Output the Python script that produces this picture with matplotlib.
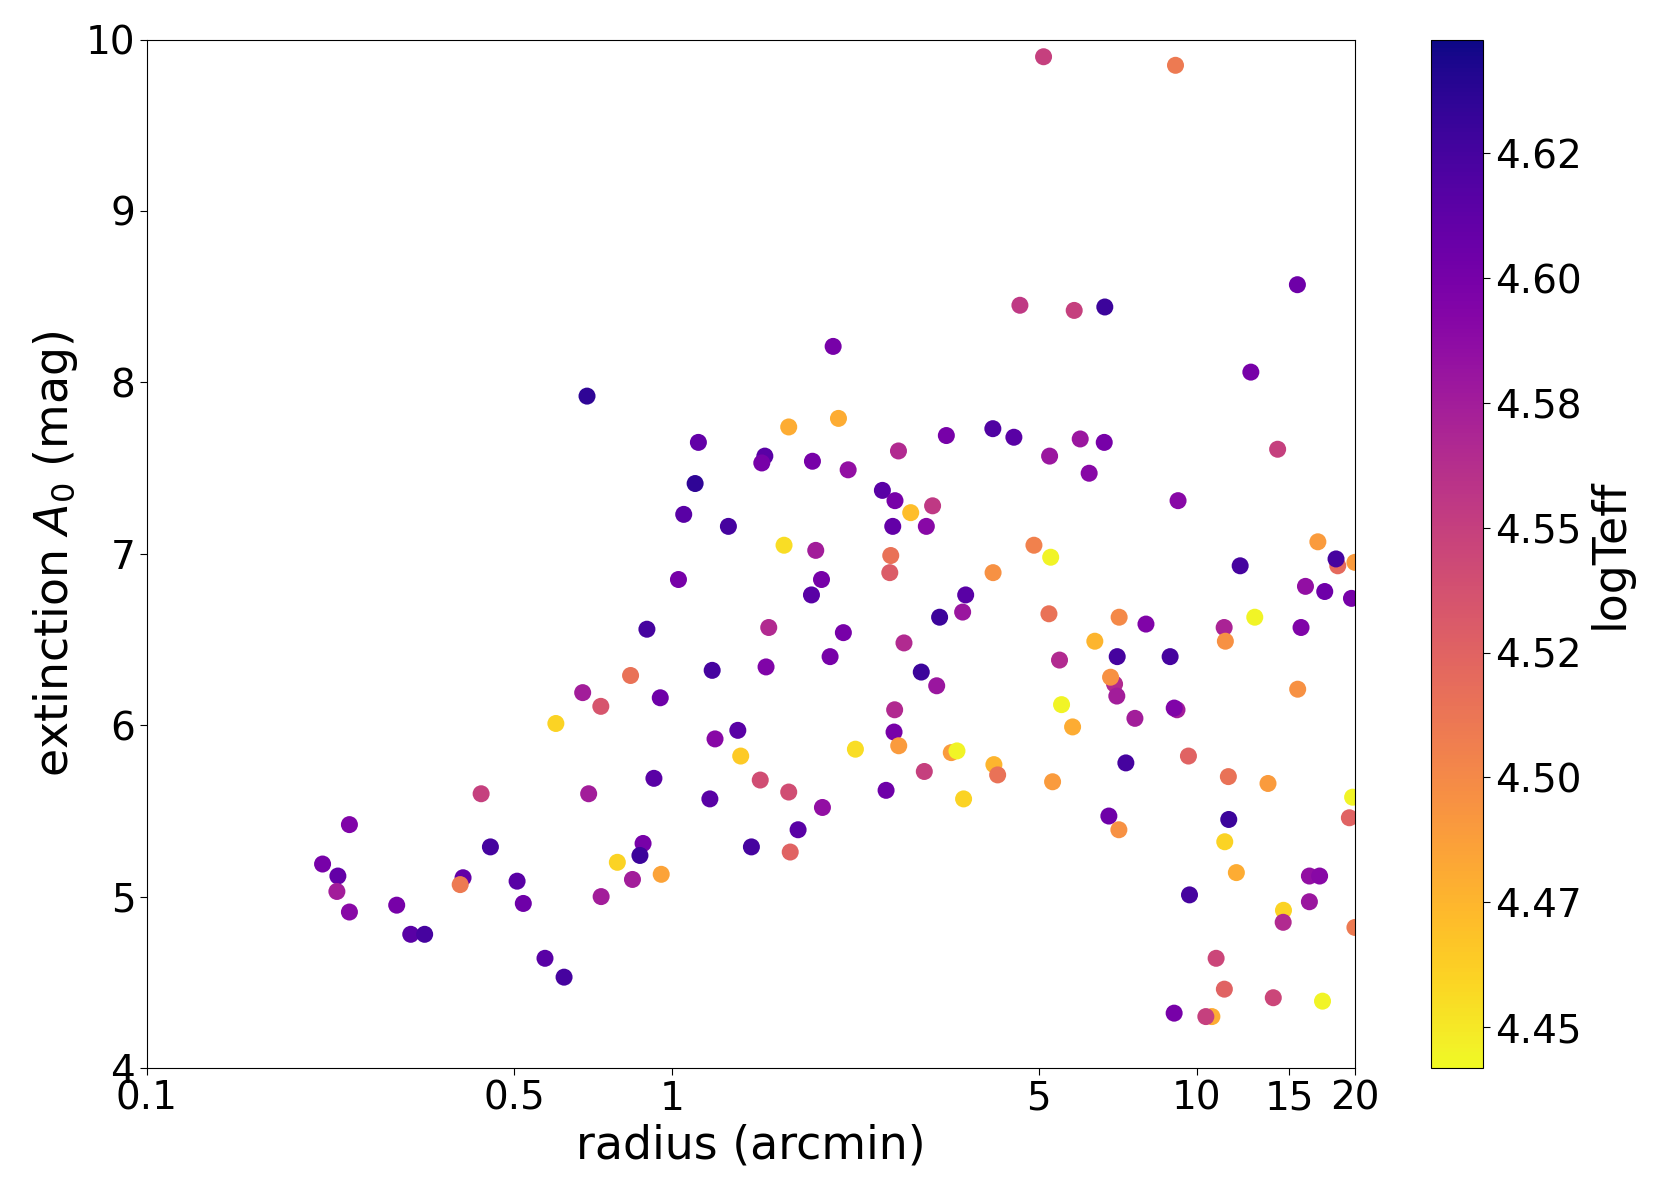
import matplotlib
matplotlib.use("Agg")
import matplotlib.pyplot as plt
import numpy as np

# radius (arcmin), extinction A0 (mag), logTeff
radius = [0.216, 0.231, 0.230, 0.243, 0.243, 0.299, 0.318, 0.338, 0.400, 0.395,
          0.433, 0.451, 0.507, 0.521, 0.573, 0.623, 0.601, 0.676, 0.689, 0.694,
          0.732, 0.733, 0.787, 0.834, 0.841, 0.881, 0.869, 0.896, 0.924, 0.950,
          0.954, 1.029, 1.053, 1.107, 1.123, 1.181, 1.193, 1.208, 1.281, 1.335,
          1.352, 1.417, 1.473, 1.503, 1.483, 1.511, 1.529, 1.635, 1.669, 1.669,
          1.680, 1.739, 1.844, 1.852, 1.879, 1.927, 1.935, 2.001, 2.028, 2.076,
          2.121, 2.166, 2.236, 2.517, 2.558, 2.611, 2.600, 2.634, 2.660, 2.649,
          2.656, 2.701, 2.704, 2.767, 2.850, 2.985, 3.025, 3.052, 3.137, 3.194,
          3.235, 3.332, 3.405, 3.491, 3.579, 3.627, 3.594, 4.086, 4.090, 4.105,
          4.173, 4.481, 4.601, 4.893, 5.104, 5.241, 5.266, 5.226, 5.310, 5.474,
          5.523, 5.797, 5.838, 5.994, 6.234, 6.391, 6.677, 6.660, 6.797, 6.969,
          6.848, 7.038, 7.050, 7.102, 7.110, 7.323, 7.620, 7.998, 8.892, 9.164,
          9.053, 9.050, 9.104, 9.207, 9.636, 9.681, 10.68, 10.40, 10.88, 11.27,
          11.33, 11.28, 11.30, 11.48, 11.50, 11.89, 12.09, 12.67, 12.89, 13.66,
          13.98, 14.25, 14.62, 14.60, 15.54, 15.56, 15.79, 16.10, 16.38, 16.38,
          17.13, 17.00, 17.35, 17.52, 18.55, 18.41, 19.70, 19.80, 19.52, 20.0,
          20.0]

a0 = [5.19, 5.12, 5.03, 5.42, 4.91, 4.95, 4.78, 4.78, 5.11, 5.07,
      5.60, 5.29, 5.09, 4.96, 4.64, 4.53, 6.01, 6.19, 7.92, 5.60,
      6.11, 5.00, 5.20, 6.29, 5.10, 5.31, 5.24, 6.56, 5.69, 6.16,
      5.13, 6.85, 7.23, 7.41, 7.65, 5.57, 6.32, 5.92, 7.16, 5.97,
      5.82, 5.29, 5.68, 7.57, 7.53, 6.34, 6.57, 7.05, 7.74, 5.61,
      5.26, 5.39, 6.76, 7.54, 7.02, 6.85, 5.52, 6.40, 8.21, 7.79,
      6.54, 7.49, 5.86, 7.37, 5.62, 6.99, 6.89, 7.16, 7.31, 5.96,
      6.09, 7.60, 5.88, 6.48, 7.24, 6.31, 5.73, 7.16, 7.28, 6.23,
      6.63, 7.69, 5.84, 5.85, 6.66, 6.76, 5.57, 7.73, 6.89, 5.77,
      5.71, 7.68, 8.45, 7.05, 9.90, 7.57, 6.98, 6.65, 5.67, 6.38,
      6.12, 5.99, 8.42, 7.67, 7.47, 6.49, 8.44, 7.65, 5.47, 6.24,
      6.28, 6.17, 6.40, 5.39, 6.63, 5.78, 6.04, 6.59, 6.40, 6.09,
      6.10, 4.32, 9.85, 7.31, 5.82, 5.01, 4.30, 4.30, 4.64, 6.57,
      6.49, 4.46, 5.32, 5.70, 5.45, 5.14, 6.93, 8.06, 6.63, 5.66,
      4.41, 7.61, 4.92, 4.85, 8.57, 6.21, 6.57, 6.81, 5.12, 4.97,
      5.12, 7.07, 4.39, 6.78, 6.93, 6.97, 6.74, 5.58, 5.46, 6.95,
      4.82]

logteff = [4.600, 4.610, 4.575, 4.595, 4.590, 4.600, 4.615, 4.625, 4.610, 4.510,
           4.550, 4.625, 4.615, 4.605, 4.615, 4.625, 4.460, 4.575, 4.635, 4.575,
           4.535, 4.575, 4.460, 4.515, 4.575, 4.600, 4.630, 4.625, 4.615, 4.605,
           4.485, 4.600, 4.615, 4.635, 4.610, 4.615, 4.625, 4.590, 4.625, 4.615,
           4.465, 4.625, 4.540, 4.615, 4.600, 4.595, 4.565, 4.455, 4.480, 4.540,
           4.525, 4.615, 4.615, 4.600, 4.575, 4.600, 4.585, 4.600, 4.600, 4.480,
           4.600, 4.585, 4.455, 4.615, 4.605, 4.515, 4.530, 4.610, 4.600, 4.600,
           4.565, 4.565, 4.490, 4.565, 4.470, 4.630, 4.550, 4.590, 4.555, 4.580,
           4.630, 4.600, 4.490, 4.445, 4.580, 4.615, 4.460, 4.620, 4.495, 4.475,
           4.515, 4.615, 4.555, 4.505, 4.550, 4.580, 4.445, 4.515, 4.490, 4.565,
           4.445, 4.480, 4.550, 4.580, 4.590, 4.475, 4.630, 4.600, 4.605, 4.565,
           4.495, 4.575, 4.625, 4.495, 4.500, 4.625, 4.575, 4.595, 4.625, 4.575,
           4.595, 4.600, 4.510, 4.590, 4.525, 4.625, 4.480, 4.550, 4.545, 4.570,
           4.495, 4.525, 4.460, 4.515, 4.630, 4.480, 4.625, 4.600, 4.445, 4.490,
           4.545, 4.550, 4.460, 4.565, 4.605, 4.495, 4.595, 4.585, 4.585, 4.580,
           4.590, 4.490, 4.445, 4.605, 4.520, 4.625, 4.600, 4.445, 4.525, 4.490,
           4.510]

x_ticks = [0.1, 0.5, 1, 5, 10, 15, 20]
x_ticklabels = ['0.1', '0.5', '1', '5', '10', '15', '20']
cb_ticks = [4.45, 4.475, 4.50, 4.525, 4.55, 4.575, 4.60, 4.625]
cb_ticklabels = ['4.45', '4.47', '4.50', '4.52', '4.55', '4.58', '4.60', '4.62']

fig = plt.figure(figsize=(16.8, 12), dpi=100)
ax = fig.add_axes([0.0875, 0.11, 0.719, 0.857])
cax = fig.add_axes([0.852, 0.11, 0.031, 0.857])

sc = ax.scatter(radius, a0, c=logteff, cmap='plasma_r', vmin=4.4418, vmax=4.6478,
                s=150, linewidths=0)

ax.set_xscale('log')
ax.set_xlim(0.1, 20)
ax.set_ylim(4, 10)
ax.set_xticks(x_ticks)
ax.set_xticklabels(x_ticklabels)
ax.xaxis.set_minor_locator(matplotlib.ticker.NullLocator())
ax.tick_params(labelsize=28, length=5)
ax.set_xlabel('radius (arcmin)', fontsize=33)
ax.set_ylabel('extinction $A_0$ (mag)', fontsize=33)

cb = fig.colorbar(sc, cax=cax)
cb.set_ticks(cb_ticks)
cb.set_ticklabels(cb_ticklabels)
cb.ax.tick_params(labelsize=28, length=5)
cb.set_label('logTeff', fontsize=33)

fig.savefig('out.png', dpi=100)
